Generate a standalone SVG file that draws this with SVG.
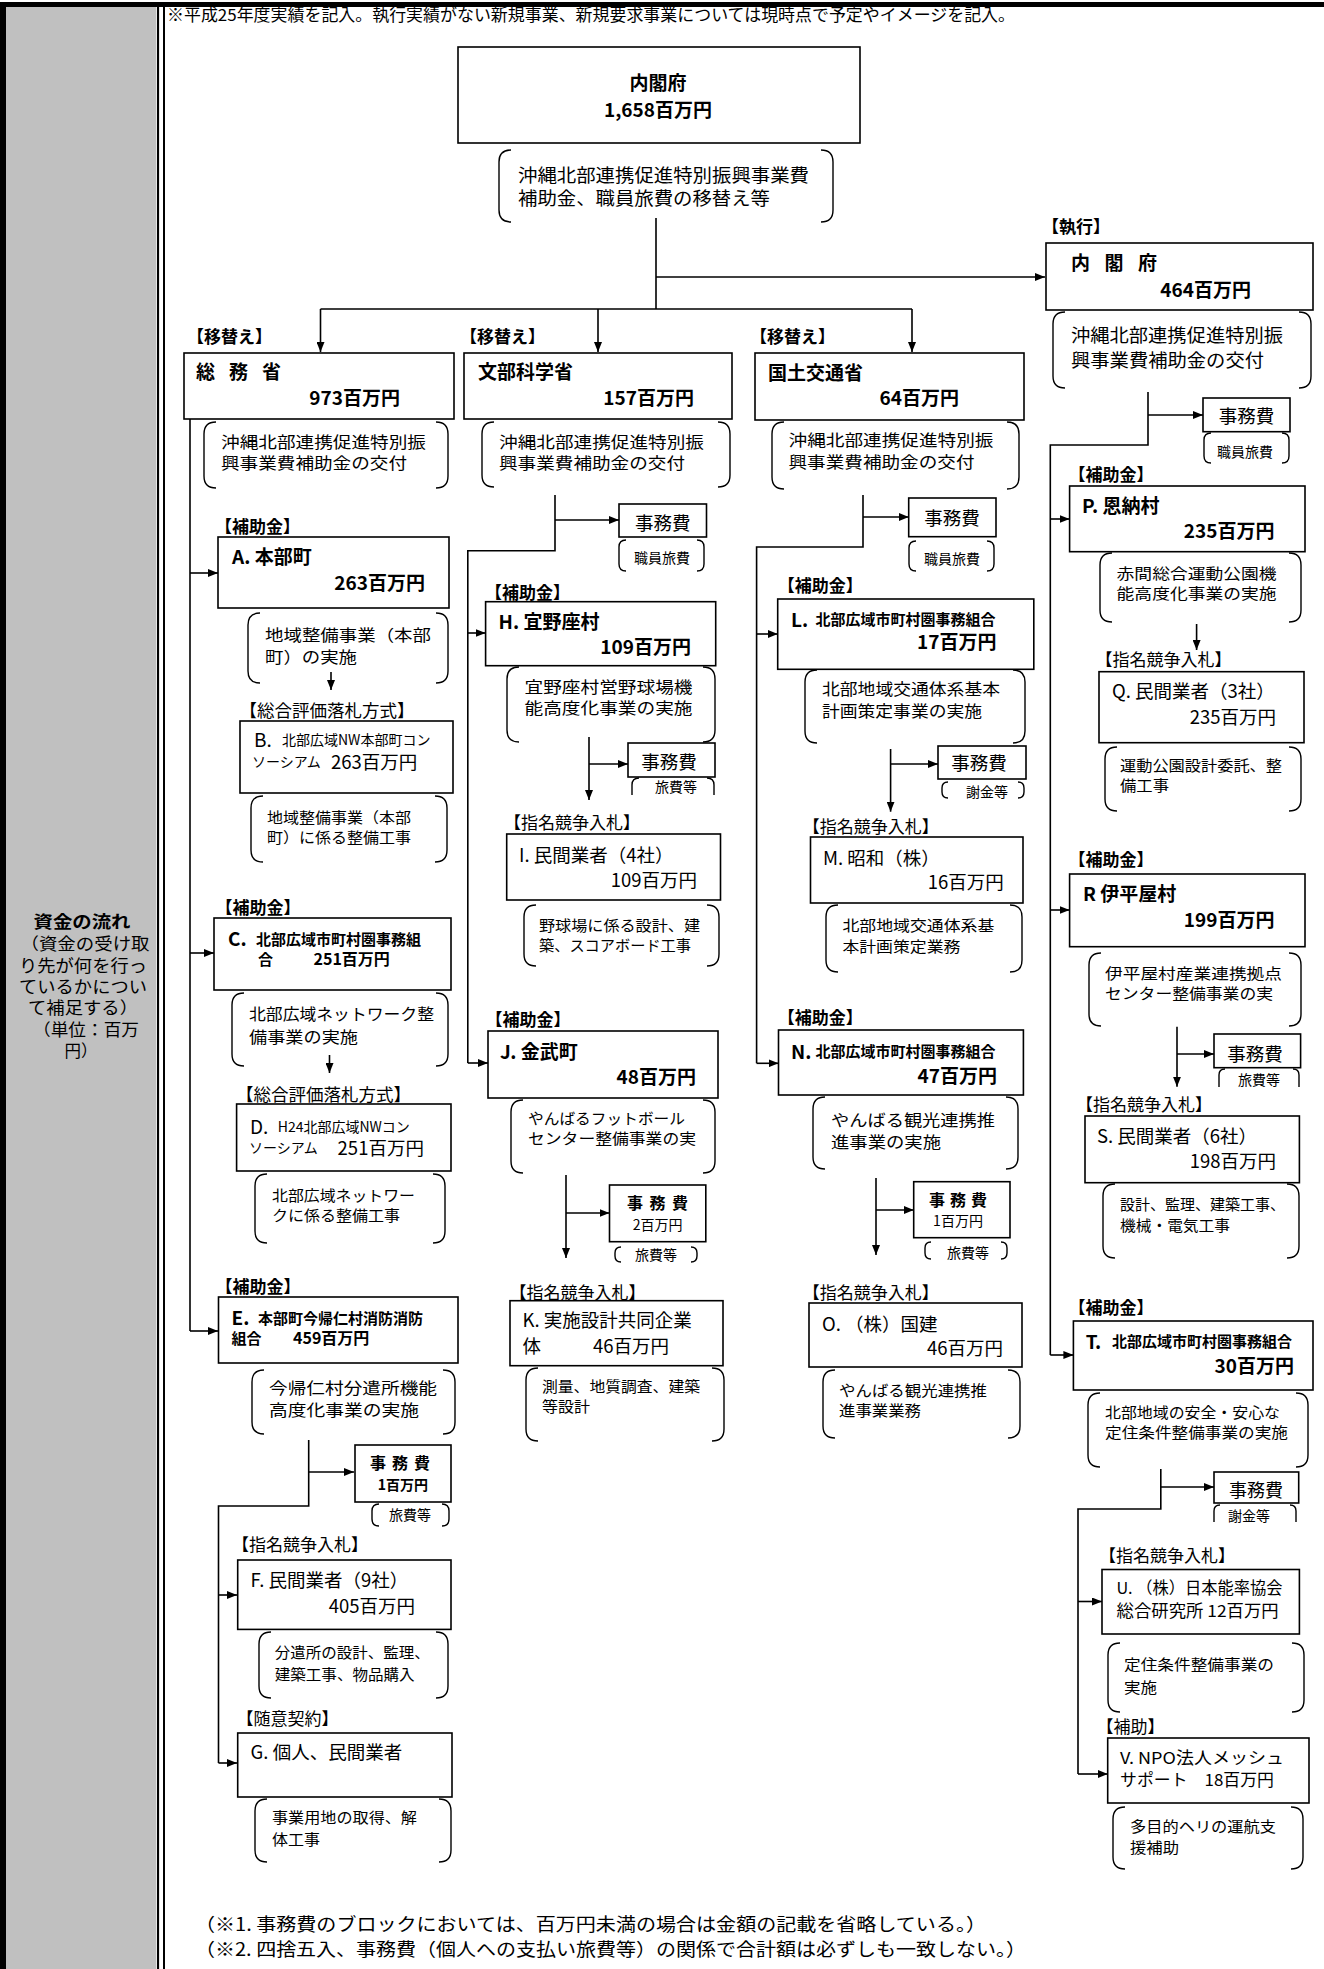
<svg xmlns="http://www.w3.org/2000/svg" width="1324" height="1969" viewBox="0 0 1324 1969">
<defs>
<marker id="ah" markerUnits="userSpaceOnUse" markerWidth="10" markerHeight="8" refX="10" refY="4" orient="auto"><path d="M0,0 L10,4 L0,8 z" fill="#000"/></marker>
<style>
text{font-family:"Noto Sans CJK JP","Noto Sans",sans-serif;fill:#000}
.b{font-weight:700}
.f19{font-size:19px}.f185{font-size:18.5px}.f18{font-size:18px}.f17{font-size:17px}.f165{font-size:16.5px}.f16{font-size:16px}.f15{font-size:15px}.f14{font-size:14px}
.p{font-size:16px}.q{font-size:15px}.g{font-size:16.5px}
.m{text-anchor:middle}.e{text-anchor:end}
.bx{fill:#fff;stroke:#000;stroke-width:1.6}
.br{fill:none;stroke:#000;stroke-width:1.4}
.ln{fill:none;stroke:#000;stroke-width:1.6}
.ar{fill:none;stroke:#000;stroke-width:1.6;marker-end:url(#ah)}
</style>
</defs>
<rect x="0" y="0" width="1324" height="1969" fill="#fff"/>
<g id="frame">
<rect x="6" y="7" width="150" height="1962" fill="#c0c0c0"/>
<rect x="0" y="2" width="1324" height="5" fill="#000"/>
<rect x="0" y="2" width="6" height="1967" fill="#000"/>
<line x1="158" y1="7" x2="158" y2="1969" stroke="#000" stroke-width="2.2"/>
<line x1="164" y1="7" x2="164" y2="1969" stroke="#000" stroke-width="2"/>
<text class="b g m" x="82" y="928" textLength="97" lengthAdjust="spacingAndGlyphs">資金の流れ</text>
<text class="g m" x="85" y="950" textLength="129" lengthAdjust="spacingAndGlyphs">（資金の受け取</text>
<text class="g m" x="83" y="972" textLength="128" lengthAdjust="spacingAndGlyphs">り先が何を行っ</text>
<text class="g m" x="83" y="993" textLength="128" lengthAdjust="spacingAndGlyphs">ているかについ</text>
<text class="g m" x="83" y="1014" textLength="110" lengthAdjust="spacingAndGlyphs">て補足する）</text>
<text class="g m" x="86" y="1036" textLength="106" lengthAdjust="spacingAndGlyphs">（単位：百万</text>
<text class="g m" x="81" y="1057">円）</text>
<text class="f165" x="167" y="21" textLength="848" lengthAdjust="spacingAndGlyphs">※平成25年度実績を記入。執行実績がない新規事業、新規要求事業については現時点で予定やイメージを記入。</text>
<text class="f18" x="195" y="1931" textLength="791" lengthAdjust="spacingAndGlyphs">（※1. 事務費のブロックにおいては、百万円未満の場合は金額の記載を省略している。）</text>
<text class="f18" x="195" y="1956" textLength="831" lengthAdjust="spacingAndGlyphs">（※2. 四捨五入、事務費（個人への支払い旅費等）の関係で合計額は必ずしも一致しない。）</text>
</g>
<g id="connectors">
<path class="ln" d="M656,218 V309 M320.5,309 H912"/>
<path class="ar" d="M320.5,309 V352"/>
<path class="ar" d="M598,309 V352"/>
<path class="ar" d="M912,309 V352"/>
<path class="ar" d="M656,277 H1045"/>
<path class="ln" d="M190,419 V1331"/>
<path class="ar" d="M190,573 H218"/>
<path class="ar" d="M190,953 H214"/>
<path class="ar" d="M190,1331 H218"/>
<path class="ar" d="M331,672 V690"/>
<path class="ar" d="M329.5,1055 V1073"/>
<path class="ln" d="M308.7,1440 V1506 H218.5 V1763"/>
<path class="ar" d="M308.7,1472 H354"/>
<path class="ar" d="M218.5,1595 H237"/>
<path class="ar" d="M218.5,1763 H237"/>
<path class="ln" d="M555,495 V550.7 H467.8 V1063"/>
<path class="ar" d="M555,520 H619"/>
<path class="ar" d="M467.8,633 H485.6"/>
<path class="ar" d="M467.8,1063 H488"/>
<path class="ar" d="M589,737 V800"/>
<path class="ar" d="M589,764 H628"/>
<path class="ar" d="M566,1175 V1258"/>
<path class="ar" d="M566,1213 H609.5"/>
<path class="ln" d="M863,495 V547 H756.6 V1063.3"/>
<path class="ar" d="M863,517 H908.7"/>
<path class="ar" d="M756.6,634 H777.7"/>
<path class="ar" d="M756.6,1063.3 H778.5"/>
<path class="ar" d="M890.6,749 V811.7"/>
<path class="ar" d="M890.6,764 H938"/>
<path class="ar" d="M876,1178 V1255"/>
<path class="ar" d="M876,1210 H913.7"/>
<path class="ln" d="M1148,392 V445 H1050.3 V1355"/>
<path class="ar" d="M1148,415 H1203"/>
<path class="ar" d="M1050.3,519 H1069.6"/>
<path class="ar" d="M1050.3,910 H1069.6"/>
<path class="ar" d="M1050.3,1355 H1073.4"/>
<path class="ar" d="M1196.6,624 V650"/>
<path class="ar" d="M1177,1026.7 V1086.7"/>
<path class="ar" d="M1177,1054 H1214"/>
<path class="ln" d="M1160.8,1469 V1509 H1078 V1774"/>
<path class="ar" d="M1160.8,1487 H1214"/>
<path class="ar" d="M1078,1601.5 H1102"/>
<path class="ar" d="M1078,1774 H1107.7"/>
</g>
<g id="n-cabinet">
<rect class="bx" x="458" y="47" width="402" height="96"/>
<text class="b f19 m" x="658" y="90">内閣府</text>
<text class="b f19 m" x="658" y="117">1,658百万円</text>
</g>
<g id="note-cabinet">
<path class="br" d="M511,150 Q499,150 499,162 V210 Q499,222 511,222 M821,150 Q833,150 833,162 V210 Q833,222 821,222"/>
<text class="f18" x="518" y="181.5" textLength="291" lengthAdjust="spacingAndGlyphs">沖縄北部連携促進特別振興事業費</text>
<text class="f18" x="518" y="204.5" textLength="252" lengthAdjust="spacingAndGlyphs">補助金、職員旅費の移替え等</text>
</g>
<g id="n-soumu">
<text class="b f17" x="187" y="343">【移替え】</text>
<rect class="bx" x="184" y="353" width="270" height="66"/>
<text class="b f19" x="196" y="379" textLength="85" lengthAdjust="spacing">総 務 省</text>
<text class="b f19 e" x="400" y="405">973百万円</text>
<path class="br" d="M216,422 Q204,422 204,434 V476 Q204,488 216,488 M436,422 Q448,422 448,434 V476 Q448,488 436,488"/>
<text class="p" x="221" y="448" textLength="205" lengthAdjust="spacingAndGlyphs">沖縄北部連携促進特別振</text>
<text class="p" x="221" y="469" textLength="186" lengthAdjust="spacingAndGlyphs">興事業費補助金の交付</text>
</g>
<g id="n-monka">
<text class="b f17" x="460" y="343">【移替え】</text>
<rect class="bx" x="464" y="353" width="268" height="66"/>
<text class="b f19" x="478" y="379">文部科学省</text>
<text class="b f19 e" x="694" y="405">157百万円</text>
<path class="br" d="M494,422 Q482,422 482,434 V475 Q482,487 494,487 M718,422 Q730,422 730,434 V475 Q730,487 718,487"/>
<text class="p" x="499" y="447.5" textLength="205" lengthAdjust="spacingAndGlyphs">沖縄北部連携促進特別振</text>
<text class="p" x="499" y="469" textLength="186" lengthAdjust="spacingAndGlyphs">興事業費補助金の交付</text>
</g>
<g id="n-kokudo">
<text class="b f17" x="750" y="343">【移替え】</text>
<rect class="bx" x="755" y="353" width="269" height="67"/>
<text class="b f19" x="768" y="380">国土交通省</text>
<text class="b f19 e" x="959" y="405">64百万円</text>
<path class="br" d="M784,422 Q772,422 772,434 V477 Q772,489 784,489 M1007,422 Q1019,422 1019,434 V477 Q1019,489 1007,489"/>
<text class="p" x="788.5" y="446" textLength="205" lengthAdjust="spacingAndGlyphs">沖縄北部連携促進特別振</text>
<text class="p" x="788.5" y="468" textLength="186" lengthAdjust="spacingAndGlyphs">興事業費補助金の交付</text>
</g>
<g id="n-exec">
<text class="b f17" x="1042" y="233">【執行】</text>
<rect class="bx" x="1046" y="243" width="267" height="67"/>
<text class="b f19" x="1071" y="270" textLength="86" lengthAdjust="spacing">内 閣 府</text>
<text class="b f19 e" x="1251" y="297">464百万円</text>
<path class="br" d="M1065,312 Q1053,312 1053,324 V376 Q1053,388 1065,388 M1299,312 Q1311,312 1311,324 V376 Q1311,388 1299,388"/>
<text class="f18" x="1071" y="341.5" textLength="212" lengthAdjust="spacingAndGlyphs">沖縄北部連携促進特別振</text>
<text class="f18" x="1071" y="366.5" textLength="193" lengthAdjust="spacingAndGlyphs">興事業費補助金の交付</text>
</g>
<g id="n-A">
<text class="b f17" x="215" y="533">【補助金】</text>
<rect class="bx" x="218" y="537" width="231" height="71"/>
<text class="b f19" x="232" y="564">A. 本部町</text>
<text class="b f19 e" x="425" y="590">263百万円</text>
<path class="br" d="M260,613 Q248,613 248,625 V671 Q248,683 260,683 M436,613 Q448,613 448,625 V671 Q448,683 436,683"/>
<text class="p" x="265" y="641" textLength="166" lengthAdjust="spacingAndGlyphs">地域整備事業（本部</text>
<text class="p" x="265" y="663" textLength="92" lengthAdjust="spacingAndGlyphs">町）の実施</text>
</g>
<g id="n-B">
<text style="font-size:17.5px" x="239.5" y="716.5">【総合評価落札方式】</text>
<rect class="bx" x="240" y="721" width="213" height="72"/>
<text class="f19" x="254" y="747">B.</text>
<text class="f14" x="282" y="745">北部広域NW本部町コン</text>
<text class="f14" x="252" y="767">ソーシアム</text>
<text class="f185" x="331" y="768.5">263百万円</text>
<path class="br" d="M263,796 Q251,796 251,808 V850 Q251,862 263,862 M435,796 Q447,796 447,808 V850 Q447,862 435,862"/>
<text class="q" x="267" y="822.5" textLength="144" lengthAdjust="spacingAndGlyphs">地域整備事業（本部</text>
<text class="q" x="267" y="842.5" textLength="144" lengthAdjust="spacingAndGlyphs">町）に係る整備工事</text>
</g>
<g id="n-C">
<text class="b f17" x="215.5" y="914">【補助金】</text>
<rect class="bx" x="214" y="918" width="237" height="72"/>
<text class="b f19" x="228" y="946">C.</text>
<text class="b f15" x="256" y="944.5">北部広域市町村圏事務組</text>
<text class="b f15" x="258" y="964.5">合</text>
<text class="b f16" x="313.5" y="965">251百万円</text>
<path class="br" d="M244,993 Q232,993 232,1005 V1054 Q232,1066 244,1066 M436,993 Q448,993 448,1005 V1054 Q448,1066 436,1066"/>
<text class="p" x="249" y="1019.5" textLength="185" lengthAdjust="spacingAndGlyphs">北部広域ネットワーク整</text>
<text class="p" x="249" y="1042.5" textLength="109" lengthAdjust="spacingAndGlyphs">備事業の実施</text>
</g>
<g id="n-D">
<text style="font-size:17.5px" x="236" y="1101">【総合評価落札方式】</text>
<rect class="bx" x="236.6" y="1104" width="214.4" height="67"/>
<text class="f19" x="250" y="1134">D.</text>
<text class="f14" x="277.7" y="1132">H24北部広域NWコン</text>
<text class="f14" x="249" y="1153">ソーシアム</text>
<text class="f185" x="337.6" y="1154.5">251百万円</text>
<path class="br" d="M267,1174 Q255,1174 255,1186 V1231 Q255,1243 267,1243 M433,1174 Q445,1174 445,1186 V1231 Q445,1243 433,1243"/>
<text class="q" x="272" y="1200.5" textLength="143" lengthAdjust="spacingAndGlyphs">北部広域ネットワー</text>
<text class="q" x="272" y="1220.5" textLength="128" lengthAdjust="spacingAndGlyphs">クに係る整備工事</text>
</g>
<g id="n-E">
<text class="b f17" x="215.5" y="1293">【補助金】</text>
<rect class="bx" x="218.5" y="1297" width="239.5" height="66"/>
<text class="b f19" x="231.5" y="1325">E.</text>
<text class="b f15" x="258" y="1323.5">本部町今帰仁村消防消防</text>
<text class="b f15" x="231.5" y="1343.5">組合</text>
<text class="b f16" x="293" y="1344">459百万円</text>
<path class="br" d="M264,1370 Q252,1370 252,1382 V1422 Q252,1434 264,1434 M443,1370 Q455,1370 455,1382 V1422 Q455,1434 443,1434"/>
<text class="p" x="269" y="1393.5" textLength="168" lengthAdjust="spacingAndGlyphs">今帰仁村分遣所機能</text>
<text class="p" x="269" y="1415.5" textLength="150" lengthAdjust="spacingAndGlyphs">高度化事業の実施</text>
</g>
<g id="n-E-exp">
<rect class="bx" x="355" y="1445" width="96" height="57"/>
<text class="b f16 m" x="400" y="1468.5" textLength="60" lengthAdjust="spacing">事 務 費</text>
<text class="b f14 m" x="403" y="1490">1百万円</text>
<path class="br" d="M379,1504 Q372,1504 372,1511 V1519 Q372,1526 379,1526 M442,1504 Q449,1504 449,1511 V1519 Q449,1526 442,1526"/>
<text class="f14" x="389" y="1520">旅費等</text>
</g>
<g id="n-F">
<text class="f17" x="232" y="1551">【指名競争入札】</text>
<rect class="bx" x="237.7" y="1560" width="213.3" height="69.4"/>
<text class="f185" x="250.6" y="1586.5">F. 民間業者（9社）</text>
<text class="f185 e" x="415" y="1612.5">405百万円</text>
<path class="br" d="M271,1632 Q259,1632 259,1644 V1686 Q259,1698 271,1698 M436,1632 Q448,1632 448,1644 V1686 Q448,1698 436,1698"/>
<text class="q" x="274.7" y="1657.5" textLength="155" lengthAdjust="spacingAndGlyphs">分遣所の設計、監理、</text>
<text class="q" x="274.7" y="1679.5" textLength="140" lengthAdjust="spacingAndGlyphs">建築工事、物品購入</text>
</g>
<g id="n-G">
<text class="f17" x="236.6" y="1725">【随意契約】</text>
<rect class="bx" x="237.7" y="1733" width="214.3" height="64"/>
<text class="f185" x="250.6" y="1758.5">G. 個人、民間業者</text>
<path class="br" d="M267,1799 Q255,1799 255,1811 V1850 Q255,1862 267,1862 M439,1799 Q451,1799 451,1811 V1850 Q451,1862 439,1862"/>
<text class="q" x="272" y="1823" textLength="145" lengthAdjust="spacingAndGlyphs">事業用地の取得、解</text>
<text class="q" x="272" y="1844.5" textLength="48" lengthAdjust="spacingAndGlyphs">体工事</text>
</g>
<g id="n-monka-exp">
<rect class="bx" x="619" y="504" width="87.5" height="33"/>
<text class="f185 m" x="662.7" y="529.7">事務費</text>
<path class="br" d="M626,540 Q619,540 619,547 V564 Q619,571 626,571 M697,540 Q704,540 704,547 V564 Q704,571 697,571"/>
<text class="f14" x="634" y="563">職員旅費</text>
</g>
<g id="n-H">
<text class="b f17" x="485" y="599">【補助金】</text>
<rect class="bx" x="485.6" y="601.7" width="230.1" height="64"/>
<text class="b f19" x="498.6" y="628.5">H. 宜野座村</text>
<text class="b f19 e" x="691" y="653.5">109百万円</text>
<path class="br" d="M519,667 Q507,667 507,679 V730 Q507,742 519,742 M703,667 Q715,667 715,679 V730 Q715,742 703,742"/>
<text class="p" x="524.5" y="692.5" textLength="168" lengthAdjust="spacingAndGlyphs">宜野座村営野球場機</text>
<text class="p" x="524.5" y="714" textLength="168" lengthAdjust="spacingAndGlyphs">能高度化事業の実施</text>
</g>
<g id="n-H-exp">
<rect class="bx" x="628" y="743" width="87" height="34"/>
<text class="f185 m" x="669" y="768.7">事務費</text>
<path class="br" d="M639,778 Q632,778 632,785 V795 M707,778 Q714,778 714,785 V795"/>
<text class="f14" x="655" y="791.7">旅費等</text>
</g>
<g id="n-I">
<text class="f17" x="504" y="829">【指名競争入札】</text>
<rect class="bx" x="506.7" y="834" width="213.8" height="66"/>
<text class="f185" x="519" y="861.7">I. 民間業者（4社）</text>
<text class="f185 e" x="697" y="886.7">109百万円</text>
<path class="br" d="M536,905 Q524,905 524,917 V954 Q524,966 536,966 M707,905 Q719,905 719,917 V954 Q719,966 707,966"/>
<text class="q" x="539" y="930.5" textLength="161" lengthAdjust="spacingAndGlyphs">野球場に係る設計、建</text>
<text class="q" x="539" y="950.5" textLength="152" lengthAdjust="spacingAndGlyphs">築、スコアボード工事</text>
</g>
<g id="n-J">
<text class="b f17" x="485.6" y="1026">【補助金】</text>
<rect class="bx" x="488" y="1031" width="230" height="67"/>
<text class="b f19" x="500" y="1058.5">J. 金武町</text>
<text class="b f19 e" x="696" y="1083.5">48百万円</text>
<path class="br" d="M523,1100 Q511,1100 511,1112 V1161 Q511,1173 523,1173 M703,1100 Q715,1100 715,1112 V1161 Q715,1173 703,1173"/>
<text class="q" x="528" y="1123.5" textLength="157" lengthAdjust="spacingAndGlyphs">やんばるフットボール</text>
<text class="q" x="528" y="1144" textLength="168" lengthAdjust="spacingAndGlyphs">センター整備事業の実</text>
</g>
<g id="n-J-exp">
<rect class="bx" x="609.5" y="1185" width="96.3" height="56.7"/>
<text class="b f16 m" x="657.6" y="1208.5" textLength="61" lengthAdjust="spacing">事 務 費</text>
<text class="f14 m" x="657.6" y="1230">2百万円</text>
<path class="br" d="M621,1247 Q615,1247 615,1253 V1256 Q615,1262 621,1262 M691,1247 Q697,1247 697,1253 V1256 Q697,1262 691,1262"/>
<text class="f14" x="635" y="1260">旅費等</text>
</g>
<g id="n-K">
<text class="f17" x="509.6" y="1299">【指名競争入札】</text>
<rect class="bx" x="510" y="1300.7" width="213" height="65"/>
<text class="f185" x="522.6" y="1327.4">K. 実施設計共同企業</text>
<text class="f185" x="522.6" y="1353.4">体</text>
<text class="f185" x="593" y="1353.4">46百万円</text>
<path class="br" d="M538,1368 Q526,1368 526,1380 V1429 Q526,1441 538,1441 M712,1368 Q724,1368 724,1380 V1429 Q724,1441 712,1441"/>
<text class="q" x="542" y="1392" textLength="158" lengthAdjust="spacingAndGlyphs">測量、地質調査、建築</text>
<text class="q" x="542" y="1412" textLength="48" lengthAdjust="spacingAndGlyphs">等設計</text>
</g>
<g id="n-kokudo-exp">
<rect class="bx" x="908.7" y="498" width="87.3" height="38.7"/>
<text class="f185 m" x="952" y="524.7">事務費</text>
<path class="br" d="M916,541 Q909,541 909,548 V564 Q909,571 916,571 M987,541 Q994,541 994,548 V564 Q994,571 987,571"/>
<text class="f14" x="924" y="564">職員旅費</text>
</g>
<g id="n-L">
<text class="b f17" x="777.7" y="592">【補助金】</text>
<rect class="bx" x="777.7" y="599" width="256.1" height="70.3"/>
<text class="b f19" x="791" y="627">L.</text>
<text class="b f15" x="815.5" y="625.4">北部広域市町村圏事務組合</text>
<text class="b f19 e" x="996.4" y="649">17百万円</text>
<path class="br" d="M817,670 Q805,670 805,682 V731 Q805,743 817,743 M1013,670 Q1025,670 1025,682 V731 Q1025,743 1013,743"/>
<text class="p" x="822" y="695" textLength="178" lengthAdjust="spacingAndGlyphs">北部地域交通体系基本</text>
<text class="p" x="822" y="716.5" textLength="160" lengthAdjust="spacingAndGlyphs">計画策定事業の実施</text>
</g>
<g id="n-L-exp">
<rect class="bx" x="938" y="746" width="88" height="33"/>
<text class="f185 m" x="979" y="769.7">事務費</text>
<path class="br" d="M948,782 Q942,782 942,788 V792 Q942,798 948,798 M1018,782 Q1024,782 1024,788 V792 Q1024,798 1018,798"/>
<text class="f14" x="966" y="797">謝金等</text>
</g>
<g id="n-M">
<text class="f17" x="802.8" y="833.4">【指名競争入札】</text>
<rect class="bx" x="810.5" y="837" width="212.5" height="66"/>
<text class="f185" x="823" y="865">M. 昭和（株）</text>
<text class="f185 e" x="1003.7" y="889.4">16百万円</text>
<path class="br" d="M838,905 Q826,905 826,917 V960 Q826,972 838,972 M1010,905 Q1022,905 1022,917 V960 Q1022,972 1010,972"/>
<text class="q" x="842.4" y="930.5" textLength="152" lengthAdjust="spacingAndGlyphs">北部地域交通体系基</text>
<text class="q" x="842.4" y="952" textLength="118" lengthAdjust="spacingAndGlyphs">本計画策定業務</text>
</g>
<g id="n-N">
<text class="b f17" x="777.7" y="1024">【補助金】</text>
<rect class="bx" x="778.5" y="1030" width="244.9" height="65"/>
<text class="b f19" x="791" y="1058.5">N.</text>
<text class="b f15" x="815.5" y="1057">北部広域市町村圏事務組合</text>
<text class="b f19 e" x="997" y="1082.5">47百万円</text>
<path class="br" d="M825,1097 Q813,1097 813,1109 V1157 Q813,1169 825,1169 M1006,1097 Q1018,1097 1018,1109 V1157 Q1018,1169 1006,1169"/>
<text class="p" x="831" y="1125.5" textLength="164" lengthAdjust="spacingAndGlyphs">やんばる観光連携推</text>
<text class="p" x="831" y="1147.5" textLength="110" lengthAdjust="spacingAndGlyphs">進事業の実施</text>
</g>
<g id="n-N-exp">
<rect class="bx" x="913.7" y="1181.7" width="96.3" height="56"/>
<text class="b f16 m" x="958" y="1205.5" textLength="58" lengthAdjust="spacing">事 務 費</text>
<text class="f14 m" x="958" y="1226">1百万円</text>
<path class="br" d="M931,1242 Q925,1242 925,1248 V1253 Q925,1259 931,1259 M1001,1242 Q1007,1242 1007,1248 V1253 Q1007,1259 1001,1259"/>
<text class="f14" x="947" y="1258">旅費等</text>
</g>
<g id="n-O">
<text class="f17" x="802.8" y="1299">【指名競争入札】</text>
<rect class="bx" x="809" y="1303" width="213" height="64"/>
<text class="f185" x="822" y="1330.7">O. （株）国建</text>
<text class="f185 e" x="1003" y="1354.7">46百万円</text>
<path class="br" d="M835,1370 Q823,1370 823,1382 V1426 Q823,1438 835,1438 M1008,1370 Q1020,1370 1020,1382 V1426 Q1020,1438 1008,1438"/>
<text class="q" x="839" y="1395.5" textLength="148" lengthAdjust="spacingAndGlyphs">やんばる観光連携推</text>
<text class="q" x="839" y="1415.5" textLength="82" lengthAdjust="spacingAndGlyphs">進事業業務</text>
</g>
<g id="n-exec-exp">
<rect class="bx" x="1203" y="398" width="87" height="33.7"/>
<text class="f185 m" x="1246.5" y="423.4">事務費</text>
<path class="br" d="M1211,433 Q1204,433 1204,440 V456 Q1204,463 1211,463 M1282,433 Q1289,433 1289,440 V456 Q1289,463 1282,463"/>
<text class="f14" x="1217" y="457">職員旅費</text>
</g>
<g id="n-P">
<text class="b f17" x="1068.4" y="481">【補助金】</text>
<rect class="bx" x="1069.6" y="486" width="235.4" height="65.7"/>
<text class="b f19" x="1082" y="512.8">P. 恩納村</text>
<text class="b f19 e" x="1274.4" y="537.5">235百万円</text>
<path class="br" d="M1112,553 Q1100,553 1100,565 V610 Q1100,622 1112,622 M1289,553 Q1301,553 1301,565 V610 Q1301,622 1289,622"/>
<text class="q" x="1116.6" y="579" textLength="160" lengthAdjust="spacingAndGlyphs">赤間総合運動公園機</text>
<text class="q" x="1116.6" y="598.5" textLength="160" lengthAdjust="spacingAndGlyphs">能高度化事業の実施</text>
</g>
<g id="n-Q">
<text class="f17" x="1095.4" y="666">【指名競争入札】</text>
<rect class="bx" x="1099" y="671.7" width="205" height="71"/>
<text class="f185" x="1112" y="698.4">Q. 民間業者（3社）</text>
<text class="f185 e" x="1276" y="724">235百万円</text>
<path class="br" d="M1117,747 Q1105,747 1105,759 V799 Q1105,811 1117,811 M1289,747 Q1301,747 1301,759 V799 Q1301,811 1289,811"/>
<text class="q" x="1120" y="770.5" textLength="162" lengthAdjust="spacingAndGlyphs">運動公園設計委託、整</text>
<text class="q" x="1120" y="790.5" textLength="49" lengthAdjust="spacingAndGlyphs">備工事</text>
</g>
<g id="n-R">
<text class="b f17" x="1068.4" y="866">【補助金】</text>
<rect class="bx" x="1069.6" y="874" width="235.4" height="72.7"/>
<text class="b f19" x="1083" y="900.8">R 伊平屋村</text>
<text class="b f19 e" x="1274.4" y="926.8">199百万円</text>
<path class="br" d="M1101,953 Q1089,953 1089,965 V1014 Q1089,1026 1101,1026 M1289,953 Q1301,953 1301,965 V1014 Q1301,1026 1289,1026"/>
<text class="q" x="1105" y="978.5" textLength="177" lengthAdjust="spacingAndGlyphs">伊平屋村産業連携拠点</text>
<text class="q" x="1105" y="998.5" textLength="168" lengthAdjust="spacingAndGlyphs">センター整備事業の実</text>
</g>
<g id="n-R-exp">
<rect class="bx" x="1214" y="1034" width="86.6" height="33.7"/>
<text class="f185 m" x="1255" y="1060.7">事務費</text>
<path class="br" d="M1225,1069 Q1219,1069 1219,1075 V1087 M1293,1069 Q1299,1069 1299,1075 V1087"/>
<text class="f14" x="1238" y="1085">旅費等</text>
</g>
<g id="n-S">
<text class="f17" x="1076" y="1111">【指名競争入札】</text>
<rect class="bx" x="1085" y="1116" width="214.4" height="66.7"/>
<text class="f185" x="1097" y="1142.7">S. 民間業者（6社）</text>
<text class="f185 e" x="1276" y="1168.4">198百万円</text>
<path class="br" d="M1115,1184 Q1103,1184 1103,1196 V1246 Q1103,1258 1115,1258 M1287,1184 Q1299,1184 1299,1196 V1246 Q1299,1258 1287,1258"/>
<text class="q" x="1120" y="1210" textLength="165" lengthAdjust="spacingAndGlyphs">設計、監理、建築工事、</text>
<text class="q" x="1120" y="1231" textLength="110" lengthAdjust="spacingAndGlyphs">機械・電気工事</text>
</g>
<g id="n-T">
<text class="b f17" x="1068.4" y="1314">【補助金】</text>
<rect class="bx" x="1073.4" y="1321" width="239.6" height="69"/>
<text class="b f19" x="1085.7" y="1348.5">T.</text>
<text class="b f15" x="1112" y="1347">北部広域市町村圏事務組合</text>
<text class="b f19 e" x="1294" y="1372.8">30百万円</text>
<path class="br" d="M1100,1393 Q1088,1393 1088,1405 V1455 Q1088,1467 1100,1467 M1296,1393 Q1308,1393 1308,1405 V1455 Q1308,1467 1296,1467"/>
<text class="q" x="1105" y="1418" textLength="175" lengthAdjust="spacingAndGlyphs">北部地域の安全・安心な</text>
<text class="q" x="1105" y="1438" textLength="183" lengthAdjust="spacingAndGlyphs">定住条件整備事業の実施</text>
</g>
<g id="n-T-exp">
<rect class="bx" x="1214" y="1472" width="84.7" height="31"/>
<text class="f18 m" x="1256" y="1497">事務費</text>
<path class="br" d="M1220,1505 Q1214,1505 1214,1511 V1522 M1290,1505 Q1296,1505 1296,1511 V1522"/>
<text class="f14" x="1228" y="1520.5">謝金等</text>
</g>
<g id="n-U">
<text class="f17" x="1099" y="1562">【指名競争入札】</text>
<rect class="bx" x="1102" y="1569.5" width="197.4" height="64.5"/>
<text class="f165" x="1116.6" y="1594" textLength="166" lengthAdjust="spacingAndGlyphs">U. （株）日本能率協会</text>
<text class="f165" x="1116.6" y="1617" textLength="162" lengthAdjust="spacingAndGlyphs">総合研究所 12百万円</text>
<path class="br" d="M1120,1643 Q1108,1643 1108,1655 V1700 Q1108,1712 1120,1712 M1292,1643 Q1304,1643 1304,1655 V1700 Q1304,1712 1292,1712"/>
<text class="q" x="1124" y="1669.5" textLength="150" lengthAdjust="spacingAndGlyphs">定住条件整備事業の</text>
<text class="q" x="1124" y="1692.5" textLength="33" lengthAdjust="spacingAndGlyphs">実施</text>
</g>
<g id="n-V">
<text class="f17" x="1096.5" y="1733">【補助】</text>
<rect class="bx" x="1107.7" y="1738" width="201.3" height="65"/>
<text class="f165" x="1120" y="1763.5" textLength="164" lengthAdjust="spacingAndGlyphs">V. NPO法人メッシュ</text>
<text class="f165" x="1120" y="1785.5" textLength="154" lengthAdjust="spacingAndGlyphs">サポート　18百万円</text>
<path class="br" d="M1125,1807 Q1113,1807 1113,1819 V1857 Q1113,1869 1125,1869 M1291,1807 Q1303,1807 1303,1819 V1857 Q1303,1869 1291,1869"/>
<text class="q" x="1130" y="1832" textLength="146" lengthAdjust="spacingAndGlyphs">多目的ヘリの運航支</text>
<text class="q" x="1130" y="1852.5" textLength="49" lengthAdjust="spacingAndGlyphs">援補助</text>
</g>
</svg>
